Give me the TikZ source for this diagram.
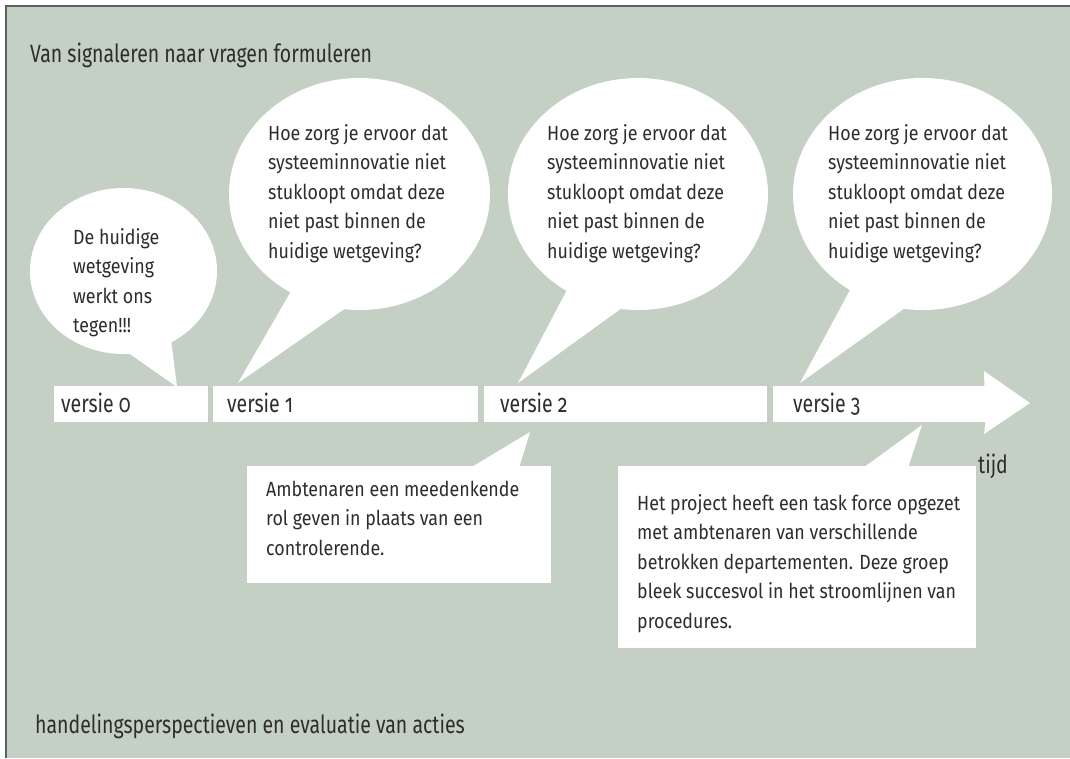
\documentclass[tikz,border=0pt]{standalone}
\usepackage{fontspec}
\setmainfont{Fira Sans}[FakeStretch=0.8, Numbers=OldStyle]
\newfontfamily\bigfont{Fira Sans}[FakeStretch=0.78, Numbers=OldStyle]
\newfontfamily\bodyfont{Fira Sans}[FakeStretch=0.87, Numbers=OldStyle]
\usetikzlibrary{shapes.geometric}
\definecolor{sage}{RGB}{196,208,195}
\definecolor{framegray}{RGB}{95,95,95}
\definecolor{ink}{RGB}{45,45,45}
\begin{document}
\begin{tikzpicture}[x=1pt,y=-1pt,
  bubble/.style={ellipse, fill=white, draw=none, inner sep=0pt},
  big/.style={font=\bigfont\fontsize{25}{30}\selectfont, text=ink, inner sep=0pt, anchor=base west},
  body/.style={font=\bodyfont\fontsize{20.5}{29.5}\selectfont, text=ink, inner sep=0pt, anchor=base west},
  barseg/.style={fill=white, draw=none, inner sep=0pt, minimum height=36pt},
  callbox/.style={fill=white, draw=none, inner sep=0pt}]
\useasboundingbox (0,0) rectangle (1070,758);
\fill[sage] (6,6) rectangle (1070,758);
\draw[framegray, line width=1.4pt] (6,758) -- (6,6) -- (1070,6);

% title and footer
\node[big] (title) at (30,62) {Van signaleren naar vragen formuleren};
\node[big] (foot) at (35,733) {handelingsperspectieven en evaluatie van acties};

% speech bubbles
\node[bubble, minimum width=187pt, minimum height=166pt] (b0) at (123.5,271) {};
\node[bubble, minimum width=261pt, minimum height=232pt] (b1) at (359.5,194) {};
\node[bubble, minimum width=260pt, minimum height=232pt] (b2) at (638,194) {};
\node[bubble, minimum width=259pt, minimum height=232pt] (b3) at (922.5,194) {};
\fill[white] (125,350.6) -- (177,387) -- (170.5,335) -- cycle;
\fill[white] (300.4,275) -- (238,383) -- (360.4,297.8) -- cycle;
\fill[white] (576.8,271.4) -- (518,383) -- (642.8,293) -- cycle;
\fill[white] (860,271.4) -- (800,383) -- (926,293) -- cycle;

\node[body] (t0) at (73,244) {\parbox[t]{150pt}{De huidige\\wetgeving\\werkt ons\\tegen!!!}};
\node[body] (t1) at (268,140) {\parbox[t]{220pt}{Hoe zorg je ervoor dat\\systeeminnovatie niet\\stukloopt omdat deze\\niet past binnen de\\huidige wetgeving?}};
\node[body] (t2) at (547,140) {\parbox[t]{220pt}{Hoe zorg je ervoor dat\\systeeminnovatie niet\\stukloopt omdat deze\\niet past binnen de\\huidige wetgeving?}};
\node[body] (t3) at (828,140) {\parbox[t]{220pt}{Hoe zorg je ervoor dat\\systeeminnovatie niet\\stukloopt omdat deze\\niet past binnen de\\huidige wetgeving?}};

% time bar
\node[barseg, minimum width=154pt, anchor=north west] (s0) at (54,386) {};
\node[barseg, minimum width=265pt, anchor=north west] (s1) at (213,386) {};
\node[barseg, minimum width=283pt, anchor=north west] (s2) at (484,386) {};
\node[barseg, minimum width=212pt, anchor=north west] (s3) at (773,386) {};
\fill[white] (s3.north east) ++(-1,0) -- (984,371) -- (1030,403) -- (984,434) -- (s3.south east) -- ++(-1,0) -- cycle;
\node[big] (v0) at (61,412) {versie 0};
\node[big] (v1) at (227,412) {versie 1};
\node[big] (v2) at (500,412) {versie 2};
\node[big] (v3) at (793,412) {versie 3};
\node[big] (tijd) at (978,473) {tijd};

% callout boxes
\node[callbox, minimum width=304pt, minimum height=117pt, anchor=north west] (c2) at (247,466) {};
\fill[white] (470,468) -- (530,432) -- (519,468) -- cycle;
\node[body] (ct2) at (266,496) {\parbox[t]{290pt}{Ambtenaren een meedenkende\\rol geven in plaats van een\\controlerende.}};
\node[callbox, minimum width=358pt, minimum height=182pt, anchor=north west] (c3) at (618,466) {};
\fill[white] (863,468) -- (922,425) -- (908,468) -- cycle;
\node[body] (ct3) at (637,510) {\parbox[t]{340pt}{Het project heeft een task force opgezet\\met ambtenaren van verschillende\\betrokken departementen. Deze groep\\bleek succesvol in het stroomlijnen van\\procedures.}};
\end{tikzpicture}
\end{document}
